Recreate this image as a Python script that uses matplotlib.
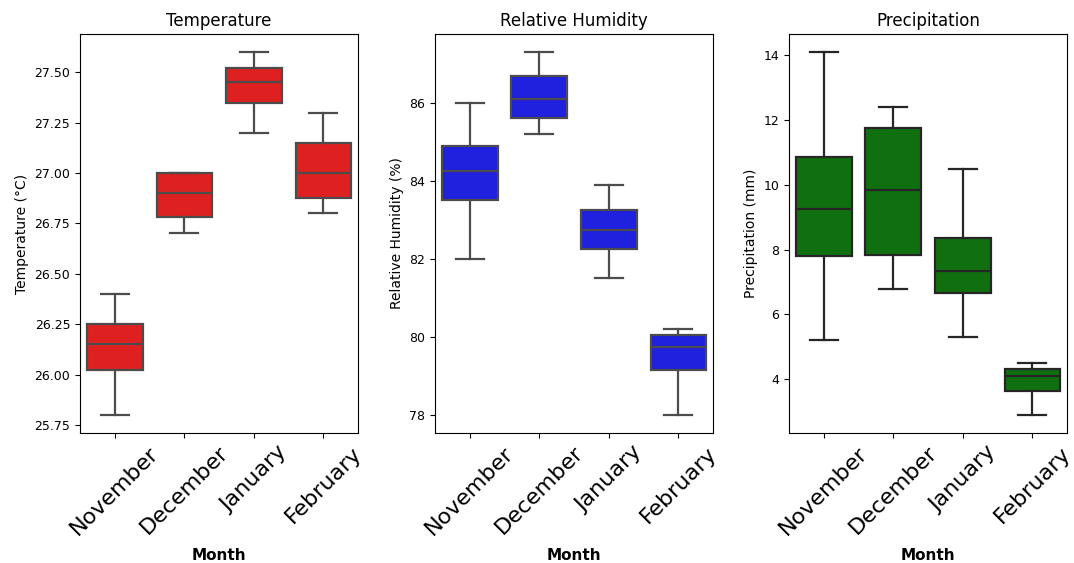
import matplotlib
matplotlib.use("Agg")
import matplotlib.pyplot as plt

months = ["November", "December", "January", "February"]

# box stats: low whisker, q1, median, q3, high whisker
temp_low = [25.8, 26.7, 27.2, 26.8]
temp_q1 = [26.02, 26.78, 27.35, 26.875]
temp_med = [26.15, 26.9, 27.45, 27.0]
temp_q3 = [26.25, 27.0, 27.52, 27.15]
temp_high = [26.4, 27.0, 27.6, 27.3]

hum_low = [82.0, 85.2, 81.5, 78.0]
hum_q1 = [83.5, 85.6, 82.25, 79.15]
hum_med = [84.25, 86.1, 82.75, 79.75]
hum_q3 = [84.9, 86.7, 83.25, 80.05]
hum_high = [86.0, 87.3, 83.9, 80.2]

prec_low = [5.2, 6.8, 5.3, 2.9]
prec_q1 = [7.8, 7.85, 6.65, 3.65]
prec_med = [9.25, 9.85, 7.35, 4.1]
prec_q3 = [10.85, 11.75, 8.35, 4.3]
prec_high = [14.1, 12.4, 10.5, 4.5]

panels = [
    ("Temperature", "Temperature (°C)", temp_low, temp_q1, temp_med, temp_q3, temp_high, "#df2020", "#4c4c4c"),
    ("Relative Humidity", "Relative Humidity (%)", hum_low, hum_q1, hum_med, hum_q3, hum_high, "#2020df", "#4c4c4c"),
    ("Precipitation", "Precipitation (mm)", prec_low, prec_q1, prec_med, prec_q3, prec_high, "#107010", "#262626"),
]

fig = plt.figure(figsize=(10.74, 5.63), dpi=100)
lefts = [0.0745, 0.405, 0.7346]

for i, (title, ylabel, lo, q1, med, q3, hi, fill, edge) in enumerate(panels):
    ax = fig.add_axes([lefts[i], 0.231, 0.259, 0.7086])
    stats = []
    for j in range(len(months)):
        stats.append({"whislo": lo[j], "q1": q1[j], "med": med[j], "q3": q3[j],
                      "whishi": hi[j], "fliers": []})
    ax.bxp(stats, positions=range(len(months)), widths=0.8, patch_artist=True,
           showfliers=False,
           boxprops=dict(facecolor=fill, edgecolor=edge, linewidth=1.6),
           medianprops=dict(color=edge, linewidth=1.6),
           whiskerprops=dict(color=edge, linewidth=1.6),
           capprops=dict(color=edge, linewidth=1.6),
           capwidths=0.4)
    ax.set_xlim(-0.5, 3.5)
    ax.set_xticks(range(len(months)))
    ax.set_xticklabels(months, rotation=45, fontsize=16)
    ax.tick_params(axis="y", labelsize=9)
    ax.set_title(title, fontsize=12)
    ax.set_ylabel(ylabel, fontsize=10)
    ax.set_xlabel("Month", fontsize=11, fontweight="bold", labelpad=7)
    ax.margins(y=0.05)
    ax.autoscale(axis="y")

fig.savefig("out.png", dpi=100)
